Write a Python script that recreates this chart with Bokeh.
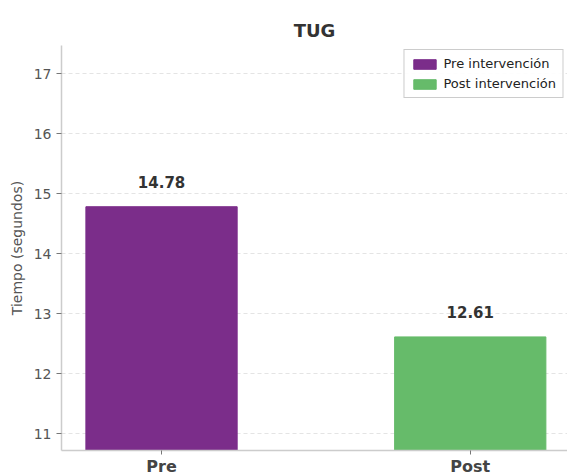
from bokeh.plotting import figure
from bokeh.models import Range1d, FixedTicker, ColumnDataSource, Legend, LegendItem
from bokeh.core.properties import value
from bokeh.embed import file_html
from bokeh.resources import INLINE

categories = ["Pre", "Post"]
values = [14.78, 12.61]
series_labels = ["Pre intervención", "Post intervención"]
colors = ["#7B2D8A", "#66BB6A"]

xs = list(range(len(categories)))

p = figure(frame_width=506, frame_height=405, output_backend="svg", toolbar_location=None,
           x_range=Range1d(-0.324, 1.315), y_range=Range1d(10.717, 17.467),
           min_border_left=61, min_border_right=0, min_border_top=45, min_border_bottom=25)
p.outline_line_color = None
p.background_fill_color = "white"
p.border_fill_color = "white"

p.title.text = "TUG"
p.title.align = "center"
p.title.text_font = "DejaVu Sans"
p.title.text_font_size = "18px"
p.title.text_font_style = "bold"
p.title.text_color = "#333333"
p.title.offset = 0
p.title.standoff = 10

items = []
for i, (x, v, lab, c) in enumerate(zip(xs, values, series_labels, colors)):
    src = ColumnDataSource(dict(x=[x], top=[v]))
    r = p.vbar(x="x", top="top", bottom=10.0, width=0.49, source=src,
               fill_color=c, line_color=c, line_width=1)
    items.append(LegendItem(label=lab, renderers=[r]))

lsrc = ColumnDataSource(dict(x=xs, y=values, t=["%.2f" % v for v in values]))
p.text(x="x", y="y", text="t", source=lsrc, y_offset=-25,
       text_align="center", text_baseline="middle",
       text_font=value("DejaVu Sans"), text_font_size="15px",
       text_font_style="bold", text_color="#333333")

legend = Legend(items=items, location="top_right")
legend.label_text_font = "DejaVu Sans"
legend.label_text_font_size = "13px"
legend.label_text_color = "#222222"
legend.glyph_width = 28
legend.glyph_height = 12
legend.label_height = 14
legend.spacing = 5
legend.padding = 6
legend.margin = 4
legend.border_line_color = "#cccccc"
legend.border_line_alpha = 1
legend.background_fill_alpha = 0.9
p.add_layout(legend)

p.xaxis.ticker = FixedTicker(ticks=xs)
p.xaxis.major_label_overrides = {x: c for x, c in zip(xs, categories)}
p.xaxis.major_label_text_font = "DejaVu Sans"
p.xaxis.major_label_text_font_size = "16px"
p.xaxis.major_label_text_font_style = "bold"
p.xaxis.major_label_text_color = "#444444"
p.xaxis.major_label_standoff = 2
p.xaxis.minor_tick_line_color = None
p.xaxis.major_tick_out = 4
p.xaxis.major_tick_in = 0
p.xaxis.major_tick_line_color = "#777777"
p.xaxis.axis_line_color = "#cccccc"
p.xaxis.axis_line_width = 1.5

p.yaxis.ticker = FixedTicker(ticks=[11, 12, 13, 14, 15, 16, 17])
p.yaxis.axis_label = "Tiempo (segundos)"
p.yaxis.axis_label_text_font = "DejaVu Sans"
p.yaxis.axis_label_text_font_size = "14px"
p.yaxis.axis_label_text_font_style = "normal"
p.yaxis.axis_label_text_color = "#555555"
p.yaxis.axis_label_standoff = 6
p.yaxis.major_label_text_font = "DejaVu Sans"
p.yaxis.major_label_text_font_size = "14px"
p.yaxis.major_label_text_color = "#555555"
p.yaxis.major_label_standoff = 5
p.yaxis.minor_tick_line_color = None
p.yaxis.major_tick_out = 5
p.yaxis.major_tick_in = 0
p.yaxis.major_tick_line_color = "#777777"
p.yaxis.axis_line_color = "#cccccc"
p.yaxis.axis_line_width = 1.5

p.xgrid.grid_line_color = None
p.ygrid.grid_line_color = "#dddddd"
p.ygrid.grid_line_dash = "4 3"
p.ygrid.grid_line_alpha = 0.8

open("out.html", "w").write(file_html(p, INLINE))
